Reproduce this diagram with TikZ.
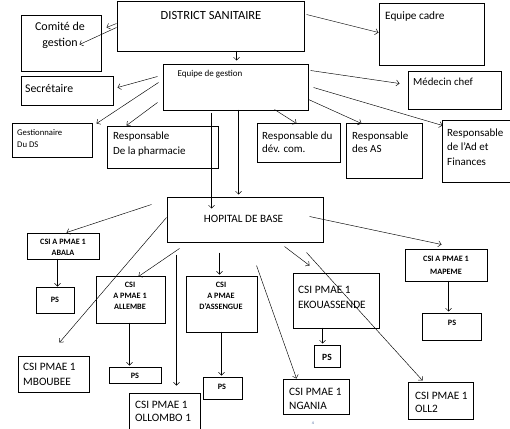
\documentclass[tikz,border=0pt]{standalone}
\usepackage{fontspec}
\setmainfont{Carlito}
\usetikzlibrary{arrows.meta,fit}
\definecolor{pagenum}{RGB}{60,90,150}
\begin{document}
\begin{tikzpicture}[x=1pt,y=-1pt,
  box/.style={draw, line width=1pt, inner sep=0pt},
  arr/.style={draw, line width=0.45pt, -{Straight Barb[length=3pt,width=6pt]}},
  txt/.style={inner sep=0pt, align=left},
  ctxt/.style={inner sep=0pt, align=center}]
\useasboundingbox (0,0) rectangle (510,428);

% boxes
\node[box, fit={(117,2) (304,51)}] (ds) {};
\node[box, fit={(21,16) (101,71)}] (com) {};
\node[box, fit={(21,76) (113,105)}] (sec) {};
\node[box, fit={(163,64) (308,110)}] (eg) {};
\node[box, fit={(379,4) (484,65)}] (ec) {};
\node[box, fit={(408,71) (501,109)}] (mc) {};
\node[box, fit={(12,123) (92,157)}] (gd) {};
\node[box, fit={(107,126) (218,168)}] (ph) {};
\node[box, fit={(257,123) (340,162)}] (dc) {};
\node[box, fit={(346,123) (422,178)}] (as) {};
\node[box, fit={(442,120) (515,182)}] (af) {};
\node[box, fit={(167,197) (323,242)}] (hb) {};
\node[box, fit={(27,233) (99,259)}] (ab) {};
\node[box, fit={(36,287) (74,313)}] (ps1) {};
\node[box, fit={(96,276) (165,323)}] (al) {};
\node[box, fit={(186,276) (257,332)}] (ass) {};
\node[box, fit={(293,273) (379,328)}] (ek) {};
\node[box, fit={(405,249) (487,281)}] (ma) {};
\node[box, fit={(422,313) (481,340)}] (ps5) {};
\node[box, fit={(314,345) (340,367)}] (ps4) {};
\node[box, fit={(283,379) (349,414)}] (ng) {};
\node[box, fit={(408,382) (473,419)}] (ol2) {};
\node[box, fit={(18,356) (89,392)}] (mb) {};
\node[box, fit={(109,367) (161,383)}] (ps2) {};
\node[box, fit={(203,377) (242,399)}] (ps3) {};
\node[box, fit={(129,393) (200,432)}] (olb) {};

% texts
\node[txt, font=\fontsize{12.5}{14}\selectfont] (ds-t) at (211,15) {DISTRICT SANITAIRE};
\node[ctxt, font=\fontsize{12}{16}\selectfont] (com-t) at (60,35) {Comité de\\gestion};
\node[txt, anchor=west, font=\fontsize{11.8}{14}\selectfont] (sec-t) at (25,88) {Secrétaire};
\node[txt, font=\fontsize{9}{10}\selectfont] (eg-t) at (210,74) {Equipe de gestion};
\node[txt, anchor=west, font=\fontsize{11.3}{13}\selectfont] (ec-t) at (385,16) {Equipe cadre};
\node[txt, anchor=west, font=\fontsize{10.8}{13}\selectfont] (mc-t) at (413,82) {Médecin chef};
\node[txt, anchor=west, font=\fontsize{8.7}{12}\selectfont] (gd-t) at (17,139) {Gestionnaire\\Du DS};
\node[txt, anchor=west, font=\fontsize{11}{15}\selectfont] (ph-t) at (113,144.5) {Responsable\\De la pharmacie};
\node[txt, anchor=west, font=\fontsize{11}{13}\selectfont] (dc-t) at (262,142.5) {Responsable du\\dév. com.};
\node[txt, anchor=west, font=\fontsize{11}{13}\selectfont] (as-t) at (352,142.5) {Responsable\\des AS};
\node[txt, anchor=west, font=\fontsize{11}{14.5}\selectfont] (af-t) at (447,147) {Responsable\\de l’Ad et\\Finances};
\node[txt, font=\fontsize{11.2}{13}\selectfont] (hb-t) at (243.5,219) {HOPITAL DE BASE};
\node[ctxt, font=\bfseries\fontsize{8.2}{11}\selectfont] (ab-t) at (63,247) {CSI A PMAE 1\\ABALA};
\node[ctxt, font=\bfseries\fontsize{8.2}{10}\selectfont] (ps1-t) at (55,300) {PS};
\node[ctxt, font=\bfseries\fontsize{8.2}{11}\selectfont] (al-t) at (130,296) {CSI\\A PMAE 1\\ALLEMBE};
\node[ctxt, font=\bfseries\fontsize{8.2}{11}\selectfont] (ass-t) at (221,296) {CSI\\A PMAE\\D’ASSENGUE};
\node[txt, anchor=west, font=\fontsize{11.3}{15}\selectfont] (ek-t) at (298,297.5) {CSI PMAE 1\\EKOUASSENDE};
\node[ctxt, font=\bfseries\fontsize{8.2}{13}\selectfont] (ma-t) at (446,265) {CSI A PMAE 1\\MAPEME};
\node[ctxt, font=\bfseries\fontsize{8.2}{10}\selectfont] (ps5-t) at (452,323) {PS};
\node[ctxt, font=\bfseries\fontsize{9.5}{10}\selectfont] (ps4-t) at (327,357) {PS};
\node[txt, anchor=west, font=\fontsize{11.3}{14}\selectfont] (ng-t) at (289,399) {CSI PMAE 1\\NGANIA};
\node[ctxt, font=\fontsize{4}{5}\selectfont, text=pagenum] (pn) at (313,423) {4};
\node[txt, anchor=west, font=\fontsize{11.3}{13}\selectfont] (ol2-t) at (415,402.5) {CSI PMAE 1\\OLL2};
\node[txt, anchor=west, font=\fontsize{11.3}{15}\selectfont] (mb-t) at (23,374.5) {CSI PMAE 1\\MBOUBEE};
\node[ctxt, font=\bfseries\fontsize{8.2}{10}\selectfont] (ps2-t) at (135,376) {PS};
\node[ctxt, font=\bfseries\fontsize{8.2}{10}\selectfont] (ps3-t) at (222,387) {PS};
\node[txt, anchor=west, font=\fontsize{11.3}{13}\selectfont] (olb-t) at (135,411.5) {CSI PMAE 1\\OLLOMBO 1};

% connectors
\draw[arr] ([shift={(0,22)}]ds.north west) -- ([shift={(86,12)}]com.north west);
\draw[arr] ([shift={(0,26)}]ds.north west) -- ([shift={(59,29)}]com.north west);
\draw[arr] ([shift={(190,13)}]ds.north west) -- ([shift={(0,29)}]ec.north west);
\draw[arr] ([shift={(120,49)}]ds.north west) -- ([shift={(74,-3)}]eg.north west);
\draw[arr] ([shift={(-5,13)}]eg.north west) -- ([shift={(97,12)}]sec.north west);
\draw[arr] ([shift={(-4,19)}]eg.north west) -- ([shift={(85,1)}]gd.north west);
\draw[arr] ([shift={(-5,39)}]eg.north west) -- ([shift={(20,0)}]ph.north west);
\draw[arr] ([shift={(112,46)}]eg.north west) -- ([shift={(40,1)}]dc.north west);
\draw[arr] ([shift={(146,36)}]eg.north west) -- ([shift={(16,1)}]as.north west);
\draw[arr] ([shift={(148,7)}]eg.north west) -- ([shift={(-8,13)}]mc.north west);
\draw[arr] ([shift={(151,24)}]eg.north west) -- ([shift={(1,6)}]af.north west);
\draw[arr] ([shift={(49,49)}]eg.north west) -- ([shift={(45,12)}]hb.north west);
\draw[arr] ([shift={(76,46)}]eg.north west) -- ([shift={(72,-2)}]hb.north west);
\draw[arr] ([shift={(-15,8)}]hb.north west) -- ([shift={(40,0)}]ab.north west);
\draw[arr] ([shift={(31,26)}]ab.north west) -- ([shift={(22,0)}]ps1.north west);
\draw[arr] ([shift={(0,21)}]hb.north west) -- ([shift={(42,-13)}]mb.north west);
\draw[arr] ([shift={(13,52)}]hb.north west) -- ([shift={(43,1)}]al.north west);
\draw[arr] ([shift={(34,47)}]al.north west) -- ([shift={(21,-1)}]ps2.north west);
\draw[arr] ([shift={(53,56)}]hb.north west) -- ([shift={(34,-1)}]ass.north west);
\draw[arr] ([shift={(36,56)}]ass.north west) -- ([shift={(19,-1)}]ps3.north west);
\draw[arr] ([shift={(10,58)}]hb.north west) -- ([shift={(48,-7)}]olb.north west);
\draw[arr] ([shift={(90,69)}]hb.north west) -- ([shift={(14,0)}]ng.north west);
\draw[arr] ([shift={(118,50)}]hb.north west) -- ([shift={(17,-7)}]ek.north west);
\draw[arr] ([shift={(140,56)}]hb.north west) -- ([shift={(15,-1)}]ol2.north west);
\draw[arr] ([shift={(143,20)}]hb.north west) -- ([shift={(37,-4)}]ma.north west);
\draw[arr] ([shift={(44,32)}]ma.north west) -- ([shift={(27,-1)}]ps5.north west);
\draw[arr] ([shift={(30,55)}]ek.north west) -- ([shift={(9,-1)}]ps4.north west);
\end{tikzpicture}
\end{document}
